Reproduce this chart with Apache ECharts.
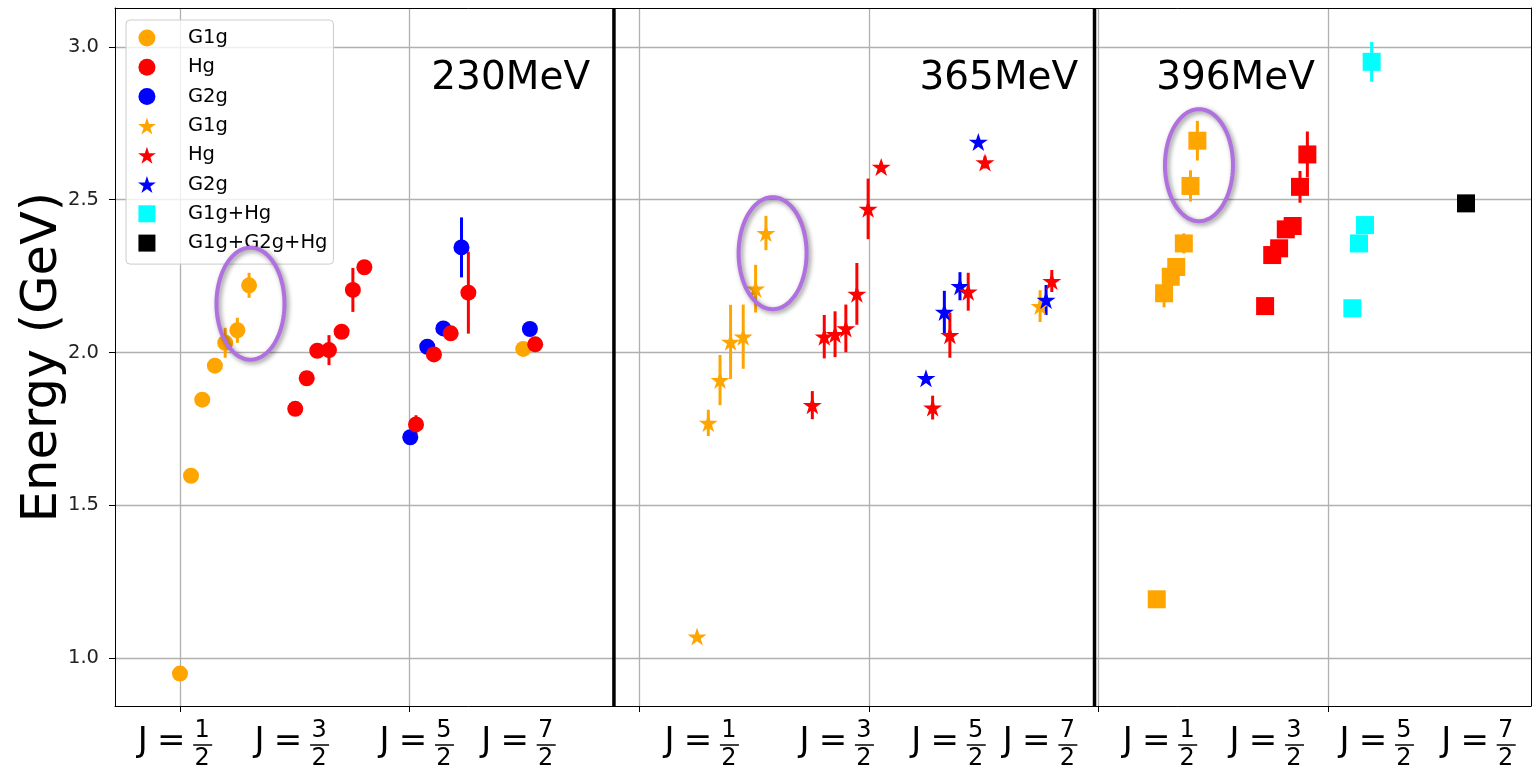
<!DOCTYPE html>
<html>
<head>
<meta charset="utf-8">
<script src="https://cdn.jsdelivr.net/npm/echarts@6/dist/echarts.min.js"></script>
<style>
  html, body { margin: 0; padding: 0; background: #fff; }
  #chart { width: 1534px; height: 772px; }
</style>
</head>
<body>
<div id="chart"></div>
<script>
// Spectrum points: [x position, energy (GeV), error (GeV)]
// 230 MeV panel (circles)
const g1gCircle = [
  [0.000, 0.950, 0.010], [0.048, 1.597, 0.010], [0.097, 1.846, 0.010], [0.152, 1.957, 0.015],
  [0.197, 2.032, 0.049], [0.250, 2.073, 0.041], [0.301, 2.220, 0.041], [1.495, 2.012, 0.010]
];
const hgCircle = [
  [0.502, 1.816, 0.010], [0.552, 1.916, 0.010], [0.598, 2.006, 0.010], [0.649, 2.008, 0.049],
  [0.704, 2.068, 0.015], [0.753, 2.205, 0.072], [0.803, 2.279, 0.010],
  [1.028, 1.765, 0.030], [1.106, 1.994, 0.015], [1.179, 2.063, 0.020], [1.256, 2.196, 0.134],
  [1.547, 2.027, 0.010]
];
const g2gCircle = [
  [1.003, 1.723, 0.010], [1.077, 2.019, 0.015], [1.147, 2.079, 0.020], [1.226, 2.344, 0.098],
  [1.524, 2.077, 0.010]
];
// 365 MeV panel (stars)
const g1gStar = [
  [2.252, 1.071, 0.010], [2.301, 1.770, 0.043], [2.352, 1.910, 0.082], [2.398, 2.035, 0.121],
  [2.453, 2.052, 0.105], [2.507, 2.209, 0.078], [2.552, 2.391, 0.056], [3.746, 2.152, 0.052]
];
const hgStar = [
  [2.754, 1.828, 0.046], [2.806, 2.052, 0.071], [2.853, 2.060, 0.075], [2.900, 2.079, 0.078],
  [2.948, 2.192, 0.101], [2.997, 2.470, 0.099], [3.054, 2.607, 0.015],
  [3.278, 1.820, 0.039], [3.353, 2.057, 0.074], [3.433, 2.199, 0.062], [3.506, 2.622, 0.020],
  [3.797, 2.234, 0.036]
];
const g2gStar = [
  [3.249, 1.916, 0.010], [3.329, 2.133, 0.069], [3.397, 2.217, 0.046], [3.477, 2.689, 0.010],
  [3.772, 2.172, 0.049]
];
// 396 MeV panel (squares)
const g1gSquare = [
  [4.254, 1.193, 0.010], [4.286, 2.194, 0.046], [4.315, 2.248, 0.015], [4.339, 2.280, 0.015],
  [4.372, 2.357, 0.033], [4.401, 2.545, 0.051], [4.431, 2.693, 0.065]
];
const hgSquare = [
  [4.726, 2.152, 0.010], [4.757, 2.319, 0.015], [4.787, 2.341, 0.015], [4.816, 2.403, 0.015],
  [4.846, 2.414, 0.015], [4.878, 2.542, 0.052], [4.910, 2.648, 0.075]
];
const g1gHgSquare = [
  [5.106, 2.145, 0.010], [5.135, 2.357, 0.010], [5.161, 2.417, 0.010], [5.190, 2.951, 0.065]
];
const g1gG2gHgSquare = [[5.601, 2.488, 0.010]];

// Axes
const yTicks = [1.0, 1.5, 2.0, 2.5, 3.0];
const xTicks = [0, 1, 2, 3, 4, 5];
const X_MIN = -0.283, X_MAX = 5.884;
const Y_MIN = 0.844, Y_MAX = 3.127;

// Panel separators and panel captions
const panelDividers = [1.890, 3.983];
const panelNames = ['230MeV', '365MeV', '396MeV'];
const panelNameX = [1.786, 3.912, 4.943];
const panelNameY = 2.894;

// Spin labels under the axis: x where each "J = n/2" starts
const spinLabelX = [-0.182, 0.327, 0.871, 1.314, 2.112, 2.700, 3.187, 3.586, 4.108, 4.573, 5.052, 5.495];
const spinNumerators = ['1', '3', '5', '7'];

// Highlighted pairs (ellipse centres)
const highlightCenters = [[0.307, 2.160], [2.581, 2.325], [4.438, 2.613]];

const FONT = '"DejaVu Sans", sans-serif';
const ORANGE = '#FFA500', RED = '#FF0000', BLUE = '#0000FF', CYAN = '#00FFFF', BLACK = '#000000';

function starPath(R, r) {
  const pts = [];
  for (let i = 0; i < 10; i++) {
    const a = -Math.PI / 2 + i * Math.PI / 5;
    const rad = i % 2 ? r : R;
    pts.push((rad * Math.cos(a)).toFixed(3) + ',' + (rad * Math.sin(a)).toFixed(3));
  }
  return 'path://M' + pts.join('L') + 'Z';
}
const STAR = starPath(10, 3.82);
const CIRCLE_ICON = 'path://M-8,0A8,8,0,1,0,8,0A8,8,0,1,0,-8,0Z';
const SQUARE_ICON = 'path://M0,0L10,0L10,10L0,10Z';

function errorBars(data, color) {
  return {
    type: 'custom',
    data: data,
    encode: { x: 0, y: 1 },
    silent: true,
    renderItem: function (params, api) {
      const x = api.value(0), y = api.value(1), e = api.value(2);
      const lo = api.coord([x, y - e]);
      const hi = api.coord([x, y + e]);
      return {
        type: 'line',
        shape: { x1: lo[0], y1: lo[1], x2: hi[0], y2: hi[1] },
        style: { stroke: color, lineWidth: 3 }
      };
    }
  };
}

function markers(name, data, color, symbol, size) {
  return {
    type: 'scatter',
    name: name,
    data: data,
    symbol: symbol,
    symbolSize: size,
    itemStyle: { color: color, opacity: 1 },
    emphasis: { disabled: true }
  };
}

const groups = [
  ['G1g|c', g1gCircle, ORANGE, 'circle', 16],
  ['G2g|c', g2gCircle, BLUE, 'circle', 16],
  ['Hg|c', hgCircle, RED, 'circle', 16],
  ['G1g|s', g1gStar, ORANGE, STAR, [19, 18]],
  ['G2g|s', g2gStar, BLUE, STAR, [19, 18]],
  ['Hg|s', hgStar, RED, STAR, [19, 18]],
  ['G1g+Hg', g1gHgSquare, CYAN, 'rect', 18],
  ['G1g+G2g+Hg', g1gG2gHgSquare, BLACK, 'rect', 18],
  ['G1g|q', g1gSquare, ORANGE, 'rect', 18],
  ['Hg|q', hgSquare, RED, 'rect', 18]
];

const series = [];

// thick black lines between the three panels
series.push({
  type: 'custom',
  data: panelDividers.map(function (x) { return [x, Y_MIN]; }),
  silent: true,
  renderItem: function (params, api) {
    const b = api.coord([api.value(0), Y_MIN]);
    const t = api.coord([api.value(0), Y_MAX]);
    return {
      type: 'line',
      shape: { x1: b[0], y1: b[1], x2: t[0], y2: t[1] },
      style: { stroke: '#000', lineWidth: 3.5 }
    };
  }
});

groups.forEach(function (g) {
  series.push(errorBars(g[1], g[2]));
  series.push(markers(g[0], g[1], g[2], g[3], g[4]));
});

// panel captions
series.push({
  type: 'custom',
  data: panelNameX.map(function (x) { return [x, panelNameY]; }),
  silent: true,
  renderItem: function (params, api) {
    const p = api.coord([api.value(0), api.value(1)]);
    return {
      type: 'text', x: p[0], y: p[1],
      style: { text: panelNames[params.dataIndex], font: '39px ' + FONT, fill: '#000', align: 'right', verticalAlign: 'middle' }
    };
  }
});

// J = n/2 labels below the axis
series.push({
  type: 'custom',
  data: spinLabelX.map(function (x) { return [x, Y_MIN]; }),
  silent: true,
  clip: false,
  renderItem: function (params, api) {
    const p = api.coord([api.value(0), Y_MIN]);
    const L = p[0], B = p[1];
    const num = spinNumerators[params.dataIndex % 4];
    const big = '34px ' + FONT, small = '24px ' + FONT;
    return {
      type: 'group',
      children: [
        { type: 'text', x: L + 4.5, y: B + 36, style: { text: 'J', font: big, fill: '#000', align: 'center', verticalAlign: 'middle' } },
        { type: 'text', x: L + 33, y: B + 36, style: { text: '=', font: big, fill: '#000', align: 'center', verticalAlign: 'middle' } },
        { type: 'text', x: L + 64, y: B + 24.5, style: { text: num, font: small, fill: '#000', align: 'center', verticalAlign: 'middle' } },
        { type: 'line', shape: { x1: L + 55, y1: B + 39, x2: L + 74, y2: B + 39 }, style: { stroke: '#000', lineWidth: 1.5 } },
        { type: 'text', x: L + 64, y: B + 53, style: { text: '2', font: small, fill: '#000', align: 'center', verticalAlign: 'middle' } }
      ]
    };
  }
});

// purple ellipses around the highlighted pairs
series.push({
  type: 'custom',
  data: highlightCenters,
  silent: true,
  z: 5,
  renderItem: function (params, api) {
    const c = api.coord([api.value(0), api.value(1)]);
    const pts = [];
    for (let i = 0; i < 96; i++) {
      const a = i / 96 * Math.PI * 2;
      pts.push([c[0] + 34 * Math.cos(a), c[1] + 56 * Math.sin(a)]);
    }
    return {
      type: 'polygon',
      shape: { points: pts },
      style: {
        fill: 'none', stroke: '#b070e0', lineWidth: 4,
        shadowBlur: 5, shadowColor: 'rgba(0,0,0,0.45)', shadowOffsetX: 2, shadowOffsetY: 2
      }
    };
  }
});

const frameAxis = {
  axisLine: { show: true, onZero: false, lineStyle: { color: '#000', width: 1 } },
  axisTick: { show: false },
  axisLabel: { show: false },
  splitLine: { show: false }
};

const chart = echarts.init(document.getElementById('chart'), null, { renderer: 'canvas' });
chart.setOption({
  animation: false,
  backgroundColor: '#fff',
  grid: { left: 115, right: 3, top: 8, bottom: 66 },
  legend: {
    orient: 'vertical',
    left: 126, top: 20,
    padding: [8, 6, 11, 12],
    itemWidth: 30, itemHeight: 17, itemGap: 9.3,
    backgroundColor: 'rgba(255,255,255,0.8)',
    borderColor: '#cccccc', borderWidth: 1, borderRadius: 4,
    selectedMode: false,
    textStyle: { fontSize: 19.5, lineHeight: 17, fontFamily: FONT, color: '#000', padding: [0, 0, 0, 21] },
    formatter: function (name) { return name.split('|')[0]; },
    data: [
      { name: 'G1g|c', icon: CIRCLE_ICON },
      { name: 'Hg|c', icon: CIRCLE_ICON },
      { name: 'G2g|c', icon: CIRCLE_ICON },
      { name: 'G1g|s', icon: STAR },
      { name: 'Hg|s', icon: STAR },
      { name: 'G2g|s', icon: STAR },
      { name: 'G1g+Hg', icon: SQUARE_ICON },
      { name: 'G1g+G2g+Hg', icon: SQUARE_ICON }
    ]
  },
  xAxis: [{
    type: 'value', min: X_MIN, max: X_MAX,
    axisLine: { show: true, onZero: false, lineStyle: { color: '#000', width: 1 } },
    axisTick: { show: true, length: 6, lineStyle: { color: '#000' }, customValues: xTicks },
    axisLabel: { show: false, customValues: xTicks },
    splitLine: { show: true, lineStyle: { color: '#b0b0b0', width: 1.3 } }
  }, Object.assign({ type: 'value', position: 'top', min: X_MIN, max: X_MAX }, frameAxis)],
  yAxis: [{
    type: 'value', min: Y_MIN, max: Y_MAX,
    name: 'Energy (GeV)', nameLocation: 'middle', nameGap: 47, nameMoveOverlap: false,
    nameTextStyle: { fontSize: 49.5, fontFamily: FONT, color: '#000' },
    axisLine: { show: true, onZero: false, lineStyle: { color: '#000', width: 1 } },
    axisTick: { show: true, length: 6, lineStyle: { color: '#000' }, customValues: yTicks },
    axisLabel: {
      customValues: yTicks, margin: 16, fontSize: 19.5, fontFamily: FONT, color: '#222',
      formatter: function (v) { return v.toFixed(1); }
    },
    splitLine: { show: true, lineStyle: { color: '#b0b0b0', width: 1.3 } }
  }, Object.assign({ type: 'value', position: 'right', min: Y_MIN, max: Y_MAX }, frameAxis)],
  series: series
});
</script>
</body>
</html>
